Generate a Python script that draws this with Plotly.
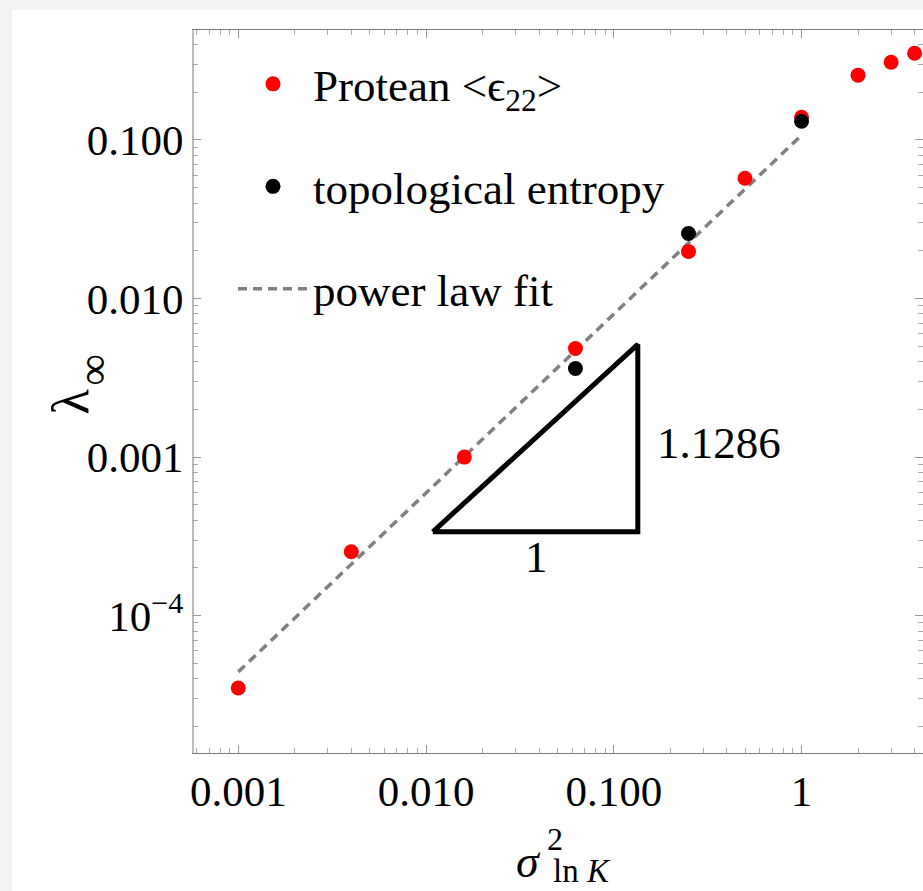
import plotly.graph_objects as go

# ---- data ----
x_protean = [0.001, 0.004, 0.016, 0.0625, 0.25, 0.5, 1.0, 2.0, 3.0, 4.0]
y_protean = [3.5e-5, 2.53e-4, 1.0e-3, 4.84e-3, 0.0198, 0.0573, 0.139, 0.256, 0.309, 0.352]

x_topo = [0.0625, 0.25, 1.0]
y_topo = [3.62e-3, 0.0257, 0.131]

fit_x = [0.001, 1.0]
fit_y = [4.42e-5, 0.107]
fit_exponent = "1.1286"

tri_x = [0.01087, 0.1343, 0.1343, 0.01087]
tri_y = [3.38e-4, 3.38e-4, 5.13e-3, 3.38e-4]

x_tickvals = [0.001, 0.01, 0.1, 1]
x_ticktext = ["0.001", "0.010", "0.100", "1"]
y_tickvals = [1e-4, 1e-3, 1e-2, 1e-1]
y_ticktext = ["10<sup>\u22124</sup>", "0.001", "0.010", "0.100"]

minor_vals = [k * 10.0 ** e for e in range(-6, 2) for k in range(2, 10)]

FONT = "Liberation Serif"
FRAME = "#7a7a7a"

fig = go.Figure()

fig.add_trace(go.Scatter(
    x=fit_x, y=fit_y, mode="lines", name="power law fit",
    line=dict(color="#808080", width=3.5, dash="9px,6px"),
    legendgroup="c", legendrank=3))

fig.add_trace(go.Scatter(
    x=tri_x, y=tri_y, mode="lines", showlegend=False,
    line=dict(color="black", width=5)))

fig.add_trace(go.Scatter(
    x=x_protean, y=y_protean, mode="markers", name="Protean &lt;\u03f5<sub>22</sub>&gt;",
    marker=dict(color="#ff0000", size=15, line=dict(width=0)),
    legendgroup="a", legendrank=1))

fig.add_trace(go.Scatter(
    x=x_topo, y=y_topo, mode="markers", name="topological entropy",
    marker=dict(color="black", size=15, line=dict(width=0)),
    legendgroup="b", legendrank=2))

axis_common = dict(
    type="log", showgrid=False, zeroline=False,
    showline=True, linewidth=1, mirror="allticks",
    ticks="inside", ticklen=8, tickcolor="#999999", tickwidth=1,
    tickfont=dict(family=FONT, size=43, color="black"),
    minor=dict(tickmode="array", tickvals=minor_vals, ticks="inside",
               ticklen=5, tickcolor="#aaaaaa", tickwidth=1, showgrid=False),
)

fig.update_layout(
    width=923, height=891,
    margin=dict(l=193, r=0, t=30, b=138),
    paper_bgcolor="#f3f3f2", plot_bgcolor="white",
    xaxis=dict(range=[-3.241, 0.647], tickmode="array", linecolor=FRAME,
               tickvals=x_tickvals, ticktext=x_ticktext, **axis_common),
    yaxis=dict(range=[-4.866, -0.307], tickmode="array",
               linecolor="rgba(0,0,0,0)",
               tickvals=y_tickvals, ticktext=y_ticktext, **axis_common),
    showlegend=True,
    legend=dict(x=0.0548, y=0.975, xanchor="left", yanchor="top",
                bgcolor="rgba(0,0,0,0)", borderwidth=0,
                font=dict(family=FONT, size=45, color="black"),
                itemwidth=70, itemsizing="trace", tracegroupgap=41,
                traceorder="grouped"),
    shapes=[
        dict(type="rect", xref="paper", yref="paper",
             x0=-0.248, x1=1.05, y0=-0.25, y1=1.0284,
             fillcolor="white", line=dict(width=0), layer="below"),
        dict(type="line", xref="paper", yref="paper",
             x0=0, x1=0, y0=0, y1=1, line=dict(color=FRAME, width=1)),
    ],
    annotations=[
        dict(x=-0.441, y=-2.909, xref="x", yref="y", text=fit_exponent,
             showarrow=False, font=dict(family=FONT, size=45, color="black")),
        dict(x=-1.411, y=-3.628, xref="x", yref="y", text="1",
             showarrow=False, font=dict(family=FONT, size=45, color="black")),
        dict(x=(40 - 193) / 730, y=(753 - 402) / 723, xref="paper", yref="paper",
             text="\u03bb", textangle=-90, showarrow=False,
             font=dict(family=FONT, size=52, color="black")),
        dict(x=(66 - 193) / 730, y=(753 - 370) / 723, xref="paper", yref="paper",
             text="\u221e", textangle=-90, showarrow=False,
             font=dict(family=FONT, size=44, color="black")),
        dict(x=(528 - 193) / 730, y=(753 - 889) / 723, xref="paper", yref="paper",
             text="<i>\u03c3</i>", showarrow=False,
             font=dict(family=FONT, size=46, color="black")),
        dict(x=(555 - 193) / 730, y=(753 - 859) / 723, xref="paper", yref="paper",
             text="2", showarrow=False,
             font=dict(family=FONT, size=32, color="black")),
        dict(x=(582 - 193) / 730, y=(753 - 871) / 723, xref="paper", yref="paper",
             text="ln <i>K</i>", showarrow=False, yanchor="middle",
             font=dict(family=FONT, size=33, color="black")),
    ],
)

fig.write_html("out.html")
